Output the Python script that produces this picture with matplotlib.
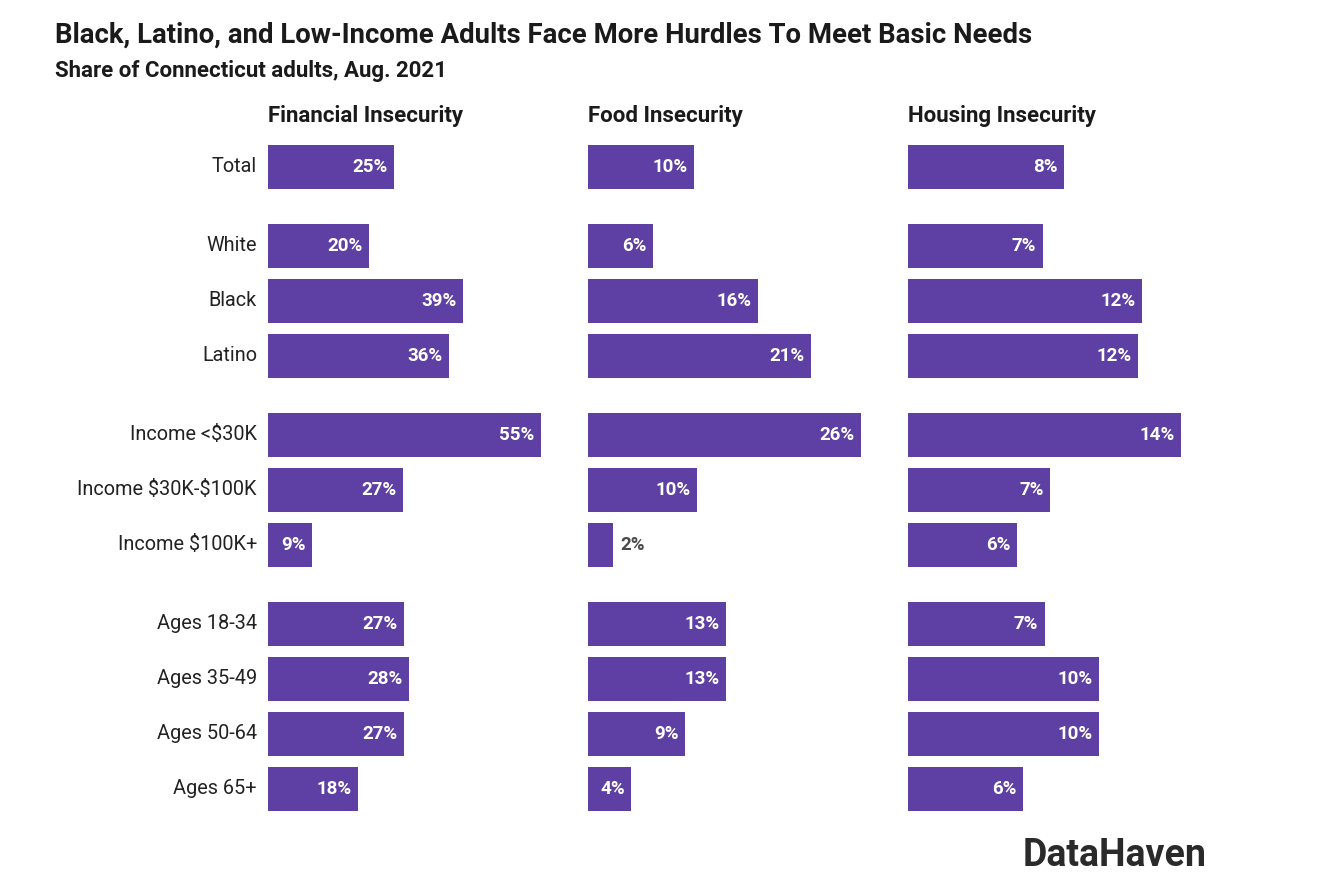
import matplotlib
matplotlib.use("Agg")
import matplotlib.pyplot as plt
import numpy as np

plt.rcParams['font.family'] = ['Roboto', 'DejaVu Sans']
plt.rcParams['text.parse_math'] = False

categories = ["Total", "White", "Black", "Latino", "Income <$30K", "Income $30K-$100K",
              "Income $100K+", "Ages 18-34", "Ages 35-49", "Ages 50-64", "Ages 65+"]
group_sizes = [1, 3, 3, 4]
panels = ["Financial Insecurity", "Food Insecurity", "Housing Insecurity"]
financial = [25.4, 20.4, 39.3, 36.4, 55.0, 27.2, 8.9, 27.4, 28.4, 27.4, 18.1]
food = [10.1, 6.2, 16.2, 21.2, 26.0, 10.4, 2.4, 13.1, 13.1, 9.2, 4.1]
housing = [8.0, 6.9, 12.0, 11.8, 14.0, 7.3, 5.6, 7.0, 9.8, 9.8, 5.9]
series = [financial, food, housing]

BAR = "#5e3fa3"
W, H = 1344, 880
fig = plt.figure(figsize=(W / 100, H / 100), dpi=100)

gap = 0.436
ypos = []
y = 0.0
for n in group_sizes:
    for k in range(n):
        ypos.append(y)
        y += 1
    y += gap
ypos = np.array(ypos)

row_px = 55
top_px = 167 - 0.5 * row_px
bot_px = 167 + 11.8 * row_px
lefts_px = [268, 588, 908]
width_px = 273

for i, (name, vals) in enumerate(zip(panels, series)):
    ax = fig.add_axes([lefts_px[i] / W, 1 - bot_px / H, width_px / W, (bot_px - top_px) / H])
    vmax = max(vals)
    ax.barh(ypos, vals, height=0.8, color=BAR, edgecolor="none")
    ax.set_xlim(0, vmax)
    ax.set_ylim(11.8, -0.5)
    ax.axis("off")
    px_per_unit = width_px / vmax
    for yy, v in zip(ypos, vals):
        bar_px = v * px_per_unit
        lab = f"{round(v):d}%"
        if bar_px > 32:
            ax.annotate(lab, (v, yy), xytext=(-4.5, 0), textcoords="offset points",
                        ha="right", va="center", color="white", fontsize=13.5,
                        fontweight="bold", annotation_clip=False)
        else:
            ax.annotate(lab, (v, yy), xytext=(5, 0), textcoords="offset points",
                        ha="left", va="center", color="#4a4a4a", fontsize=13.5,
                        fontweight="bold", annotation_clip=False)
    ax.text(0, -0.93, name, ha="left", va="center", fontsize=16, fontweight="bold",
            color="#1a1a1a", transform=ax.transData)
    if i == 0:
        for yy, c in zip(ypos, categories):
            ax.annotate(c, (0, yy), xytext=(-8, 0), textcoords="offset points",
                        ha="right", va="center", fontsize=14.3, color="#222222",
                        annotation_clip=False)

fig.text(55 / W, 1 - 35 / H, "Black, Latino, and Low-Income Adults Face More Hurdles To Meet Basic Needs",
         ha="left", va="center", fontsize=19.8, fontweight="bold", color="#1a1a1a")
fig.text(55 / W, 1 - 71 / H, "Share of Connecticut adults, Aug. 2021",
         ha="left", va="center", fontsize=16, fontweight="bold", color="#1a1a1a")
fig.text(1207 / W, 1 - 855 / H, "DataHaven", ha="right", va="center",
         fontsize=27, fontweight="bold", color="#2a2a2a")

fig.savefig("out.png", dpi=100, facecolor="white")
